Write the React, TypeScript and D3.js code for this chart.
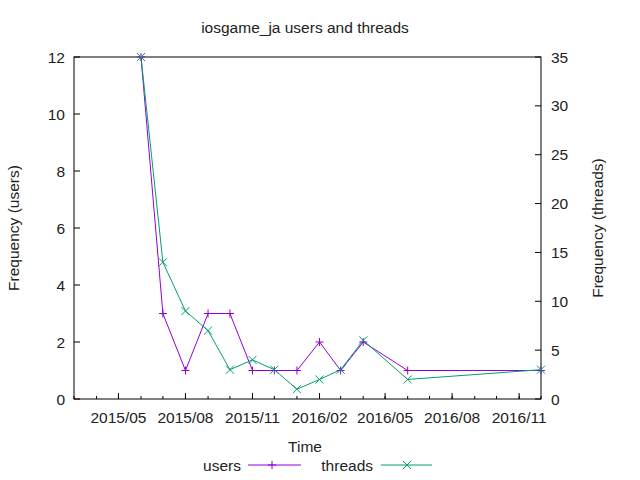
import React from "react";
import * as d3 from "d3";

const dates = ["2015-06-01","2015-07-01","2015-08-01","2015-09-01","2015-10-01","2015-11-01","2015-12-01","2016-01-01","2016-02-01","2016-03-01","2016-04-01","2016-06-01","2016-12-01"];
const users = [12,3,1,3,3,1,1,1,2,1,2,1,1];
const threads = [35,14,9,7,3,4,3,1,2,3,6,2,3];
const leftTicks = [0,2,4,6,8,10,12];
const rightTicks = [0,5,10,15,20,25,30,35];
const xTicks = ["2015-05-01","2015-08-01","2015-11-01","2016-02-01","2016-05-01","2016-08-01","2016-11-01"];

const P = "#9400d3", G = "#009e73";
const L = 74, R = 541, T = 57, B = 399;

export default function App() {
  const pd = d3.utcParse("%Y-%m-%d");
  const x = d3.scaleUtc().domain([pd("2015-03-01")!, pd("2016-12-01")!]).range([L, R]);
  const yl = d3.scaleLinear().domain([0, 12]).range([B, T]);
  const yr = d3.scaleLinear().domain([0, 35]).range([B, T]);
  const months = d3.utcMonth.range(pd("2015-03-01")!, pd("2016-12-02")!);
  const ds = dates.map(d => pd(d)!);
  const lu = d3.line<number>().x((_, i) => x(ds[i])).y(v => yl(v))(users)!;
  const lt = d3.line<number>().x((_, i) => x(ds[i])).y(v => yr(v))(threads)!;
  const fmt = d3.utcFormat("%Y/%m");
  const plus = (cx: number, cy: number, k: string) => (
    <path key={k} d={`M${cx-4},${cy}H${cx+4}M${cx},${cy-4}V${cy+4}`} stroke={P} />
  );
  const cross = (cx: number, cy: number, k: string) => (
    <path key={k} d={`M${cx-4},${cy-4}L${cx+4},${cy+4}M${cx-4},${cy+4}L${cx+4},${cy-4}`} stroke={G} />
  );
  return (
    <svg width={640} height={480} style={{ position: "absolute", left: 0, top: 0, background: "#fff" }}
      fontFamily="'Liberation Sans', Arial, sans-serif" fontSize={15.5} fill="#222">
      <rect x={L} y={T} width={R - L} height={B - T} fill="none" stroke="#000" />
      {leftTicks.map(t => (
        <g key={"l" + t}>
          <line x1={L} x2={L + 6} y1={yl(t)} y2={yl(t)} stroke="#000" />
          <text x={L - 9} y={yl(t) + 5.5} textAnchor="end">{t}</text>
        </g>
      ))}
      {rightTicks.map(t => (
        <g key={"r" + t}>
          <line x1={R - 6} x2={R} y1={yr(t)} y2={yr(t)} stroke="#000" />
          <text x={R + 10} y={yr(t) + 5.5}>{t}</text>
        </g>
      ))}
      {months.map((m, i) => (
        <line key={"m" + i} x1={x(m)} x2={x(m)} y1={B} y2={B - 3} stroke="#000" />
      ))}
      {xTicks.map(t => (
        <g key={t}>
          <line x1={x(pd(t)!)} x2={x(pd(t)!)} y1={B} y2={B - 6} stroke="#000" />
          <text x={x(pd(t)!)} y={B + 24} textAnchor="middle">{fmt(pd(t)!)}</text>
        </g>
      ))}
      <path d={lu} fill="none" stroke={P} />
      <path d={lt} fill="none" stroke={G} />
      {users.map((v, i) => plus(x(ds[i]), yl(v), "p" + i))}
      {threads.map((v, i) => cross(x(ds[i]), yr(v), "c" + i))}
      <text x={305} y={33} textAnchor="middle">iosgame_ja users and threads</text>
      <text x={305} y={452} textAnchor="middle">Time</text>
      <text transform="translate(19,228) rotate(-90)" textAnchor="middle">Frequency (users)</text>
      <text transform="translate(603,228) rotate(-90)" textAnchor="middle">Frequency (threads)</text>
      <text x={241} y={471} textAnchor="end">users</text>
      <line x1={248} x2={301} y1={465} y2={465} stroke={P} />
      {plus(272, 465, "lp")}
      <text x={373} y={471} textAnchor="end">threads</text>
      <line x1={381} x2={432} y1={465} y2={465} stroke={G} />
      {cross(407, 465, "lc")}
    </svg>
  );
}
